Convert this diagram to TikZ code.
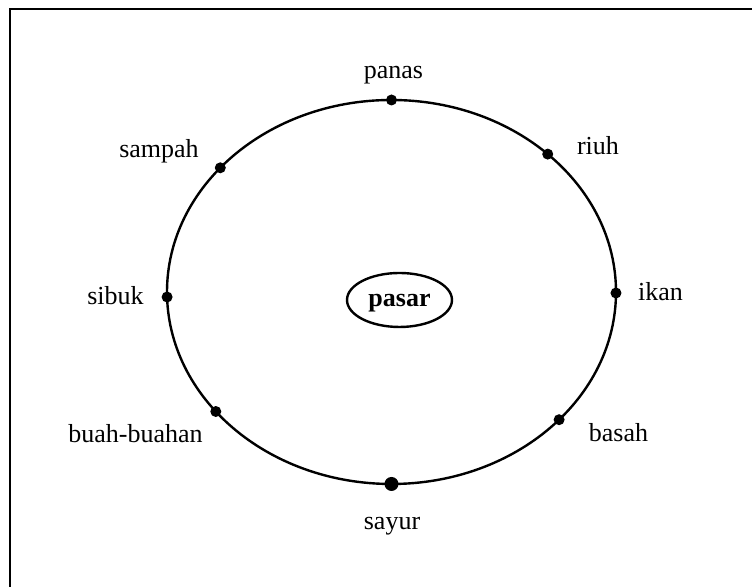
\documentclass[tikz,border=0pt]{standalone}
\usepackage{fontspec}
\setmainfont{Liberation Serif}
\usetikzlibrary{calc,shapes.geometric}

\tikzset{
  dot/.style={circle, fill=black, inner sep=0pt, minimum size=5.5pt},
  word/.style={anchor=base, font=\fontsize{13}{15}\selectfont},
}

\begin{document}
\begin{tikzpicture}[x=0.5pt, y=0.5pt]
			%%%%% START %%%%%
			
			\useasboundingbox (0,0) rectangle (752,587);
			\clip (0,0) rectangle (752,587);
			\draw[line width=1.4pt] (10,-20) rectangle (800,578);
			
			\coordinate (mid) at (391.5,295);
			\draw[line width=1.2pt] (mid) ellipse [x radius=224.5, y radius=192];
			
			\node[draw, ellipse, line width=1.2pt, minimum width=52.5pt, minimum height=27pt, inner sep=0pt, text depth=0pt, font=\bfseries\fontsize{13}{15}\selectfont] (pasar) at (399.5,287) {pasar};
			
			\node[dot] (dotPanas) at ($(mid)+(90:224.5 and 192)$) {};
			\node[dot] (dotRiuh) at ($(mid)+(45.9:224.5 and 192)$) {};
			\node[dot] (dotIkan) at ($(mid)+(-0.3:224.5 and 192)$) {};
			\node[dot] (dotBasah) at ($(mid)+(-41.7:224.5 and 192)$) {};
			\node[dot, minimum size=7pt] (dotSayur) at ($(mid)+(270:224.5 and 192)$) {};
			\node[dot] (dotBuah) at ($(mid)+(218.5:224.5 and 192)$) {};
			\node[dot] (dotSibuk) at ($(mid)+(181.5:224.5 and 192)$) {};
			\node[dot] (dotSampah) at ($(mid)+(139.7:224.5 and 192)$) {};
			
			\node[word] (txtPanas) at (393.5,508.7) {panas};
			\node[word] (txtRiuh) at (598,432) {riuh};
			\node[word] (txtIkan) at (660.5,286) {ikan};
			\node[word] (txtBasah) at (618.5,145.3) {basah};
			\node[word] (txtSayur) at (392,57) {sayur};
			\node[word] (txtBuah) at (135.5,144.7) {buah-buahan};
			\node[word] (txtSibuk) at (115.5,282) {sibuk};
			\node[word] (txtSampah) at (159,429.7) {sampah};
			
			%%%%% END %%%%%
\end{tikzpicture}
\end{document}
